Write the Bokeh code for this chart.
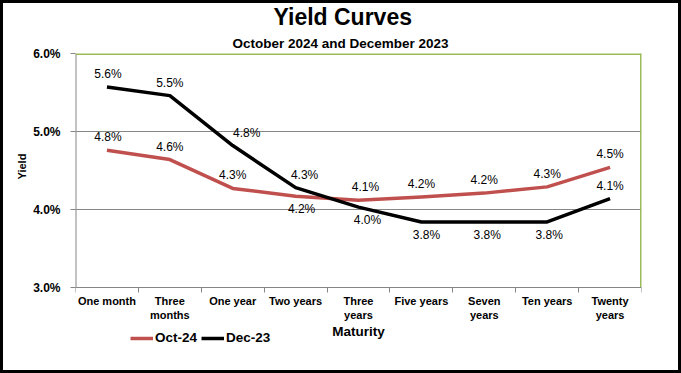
from bokeh.plotting import figure
from bokeh.models import (Range1d, FixedTicker, PrintfTickFormatter, Title, Legend, LegendItem,
                          ColumnDataSource, InlineStyleSheet, Span)
from bokeh.core.properties import value
from bokeh.embed import file_html
from bokeh.resources import INLINE

# ---- data ----
categories = ["One month", "Three\nmonths", "One year", "Two years", "Three\nyears",
              "Five years", "Seven\nyears", "Ten years", "Twenty\nyears"]
oct24 = [4.76, 4.64, 4.27, 4.17, 4.12, 4.16, 4.21, 4.29, 4.54]
dec23 = [5.57, 5.46, 4.82, 4.28, 4.03, 3.84, 3.84, 3.84, 4.14]
y_ticks = [3.0, 4.0, 5.0, 6.0]
series_names = ["Oct-24", "Dec-23"]

# label placement (style)
oct_pos = ["above", "above", "above", "below", "above", "above", "above", "above", "above"]
dec_pos = ["above", "above", "above", "above", "below", "below", "below", "below", "above"]
oct_dx = [1, 0, 0, 6, 7, 0, 0, 0, 0]
dec_dx = [1, 0, 14, 9, 9, 5, 3, 2, 0]

# ---- layout / style ----
FONT = "Liberation Sans"
RED = "#C0504D"
GRAY = "#868686"
GREEN = "#9BBB59"
W, H = 681, 373
LEFT, RIGHT, TOP, BOTTOM = 75, 40, 53, 8
PX_PER_UNIT = 78.0
frame_h = H - TOP - BOTTOM
plot_h = PX_PER_UNIT * (y_ticks[-1] - y_ticks[0])
y_start = y_ticks[0] - (frame_h - plot_h) / PX_PER_UNIT

xs = list(range(len(categories)))
x_lo, x_hi = -0.5, len(categories) - 0.5

p = figure(width=W, height=H, output_backend="svg", toolbar_location=None,
           x_range=Range1d(x_lo, x_hi), y_range=Range1d(y_start, y_ticks[-1]),
           min_border_left=LEFT, min_border_right=RIGHT, min_border_top=TOP, min_border_bottom=BOTTOM,
           title=None)
p.stylesheets = [InlineStyleSheet(css=":host{position:relative;} :host::after{content:'';position:absolute;left:0;top:0;right:0;bottom:0;border:3px solid black;pointer-events:none;z-index:100;}")]
p.background_fill_color = "white"
p.border_fill_color = "white"
p.outline_line_color = None

# titles (left-aligned with offsets so they sit centred on the whole chart)
p.add_layout(Title(text="October 2024 and December 2023", align="left", text_font=FONT,
                   text_font_size="13.5px", text_font_style="bold", text_color="black",
                   standoff=5, offset=157), "above")
p.add_layout(Title(text="Yield Curves", align="left", text_font=FONT,
                   text_font_size="23px", text_font_style="bold", text_color="black",
                   standoff=3, offset=198), "above")

# plot-area border (green top & right, gray left)
p.add_layout(Span(location=y_ticks[-1], dimension="width", line_color=GREEN, line_width=3))
p.segment(x0=[x_hi], y0=[y_ticks[0]], x1=[x_hi], y1=[y_ticks[-1]], line_color=GREEN, line_width=3)
p.segment(x0=[x_lo], y0=[y_ticks[0]], x1=[x_lo], y1=[y_ticks[-1]], line_color=GRAY, line_width=2)

# axes
xa = p.xaxis[0]
xa.fixed_location = y_ticks[0]
xa.ticker = FixedTicker(ticks=xs, minor_ticks=[i - 0.5 for i in range(len(categories) + 1)])
xa.major_label_overrides = {i: c for i, c in zip(xs, categories)}
xa.major_tick_line_color = None
xa.major_tick_out = 0
xa.major_tick_in = 0
xa.minor_tick_line_color = GRAY
xa.minor_tick_out = 5
xa.minor_tick_in = 0
xa.axis_line_color = GRAY
xa.major_label_text_font = FONT
xa.major_label_text_font_size = "11px"
xa.major_label_text_font_style = "bold"
xa.major_label_text_color = "black"
xa.major_label_standoff = 2
xa.axis_label = "Maturity"
xa.axis_label_text_font = FONT
xa.axis_label_text_font_size = "13.5px"
xa.axis_label_text_font_style = "bold"
xa.axis_label_text_color = "black"
xa.axis_label_standoff = 0

ya = p.yaxis[0]
ya.bounds = (y_ticks[0], y_ticks[-1])
ya.ticker = FixedTicker(ticks=y_ticks)
ya.formatter = PrintfTickFormatter(format="%.1f%%")
ya.axis_line_color = None
ya.major_tick_line_color = GRAY
ya.major_tick_out = 5
ya.major_tick_in = 0
ya.minor_tick_line_color = None
ya.major_label_text_font = FONT
ya.major_label_text_font_size = "12px"
ya.major_label_text_font_style = "bold"
ya.major_label_text_color = "black"
ya.major_label_standoff = 10

# y-axis title, placed by the 3%..6% span
p.add_layout(Title(text="Yield", align="left", text_font=FONT, text_font_size="11px",
                   text_font_style="bold", text_color="black", standoff=6,
                   offset=186), "left")

p.xgrid.grid_line_color = None
p.ygrid.ticker = FixedTicker(ticks=y_ticks[1:-1])
p.ygrid.grid_line_color = GRAY
p.ygrid.grid_line_width = 1

# lines
r_oct = p.line(xs, oct24, line_color=RED, line_width=3.5, line_join="round")
r_dec = p.line(xs, dec23, line_color="black", line_width=3.5, line_join="round")

# data labels
def labels(vals, pos, dx):
    src = ColumnDataSource(dict(
        x=xs, y=vals,
        t=["%.1f%%" % v for v in vals],
        dy=[-13 if s == "above" else 13 for s in pos],
        dx=dx,
    ))
    p.text(x="x", y="y", text="t", x_offset="dx", y_offset="dy", source=src,
           text_font=value(FONT), text_font_size="12px", text_color="black",
           text_align="center", text_baseline="middle")

labels(oct24, oct_pos, oct_dx)
labels(dec23, dec_pos, dec_dx)

legend = Legend(items=[LegendItem(label=series_names[0], renderers=[r_oct]),
                       LegendItem(label=series_names[1], renderers=[r_dec])],
                location=(55, 20), orientation="horizontal",
                label_text_font=FONT, label_text_font_size="13.5px", label_text_font_style="bold",
                label_text_color="black", glyph_width=23, glyph_height=14, label_standoff=2,
                spacing=4, padding=0, margin=0, border_line_color=None, background_fill_alpha=0)
p.add_layout(legend, "center")

open("out.html", "w").write(file_html(p, INLINE))
